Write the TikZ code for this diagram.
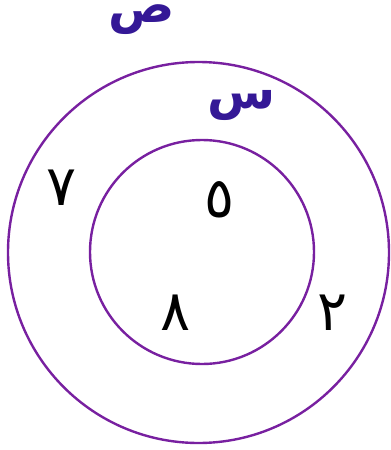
\documentclass[tikz,border=0pt]{standalone}
\usepackage{fontspec}
\TeXXeTstate=1
\newfontfamily\arabicfont[Script=Arabic]{DejaVu Sans}
\definecolor{ringcol}{RGB}{120,32,160}
\definecolor{lettercol}{RGB}{52,24,150}
\begin{document}
\begin{tikzpicture}[x=0.75pt,y=-0.75pt,
  ring/.style={draw=ringcol,line width=1.8pt},
  digit/.style={font=\arabicfont\fontsize{42}{46}\selectfont,text=black,inner sep=0pt},
  letter/.style={font=\arabicfont\fontsize{37}{40}\selectfont\bfseries,text=lettercol,inner sep=0pt,text height=9pt,text depth=5pt}]
\useasboundingbox (0,0) rectangle (390,450);
\node[ring,circle,minimum size=381*0.75pt,inner sep=0pt] (outer) at (198.5,252.5) {};
\node[ring,circle,minimum size=224*0.75pt,inner sep=0pt] (inner) at (202,252) {};
\node[letter] (sad) at (142,20) {\beginR ص\endR};
\node[letter] (seen) at (242,106) {\beginR س\endR};
\node[digit] (d7) at (62,188) {\beginR ٧\endR};
\node[digit] (d5) at (220,200) {\beginR ٥\endR};
\node[digit] (d8) at (176,313) {\beginR ٨\endR};
\node[digit] (d2) at (333,313) {\beginR ٢\endR};
\end{tikzpicture}
\end{document}
